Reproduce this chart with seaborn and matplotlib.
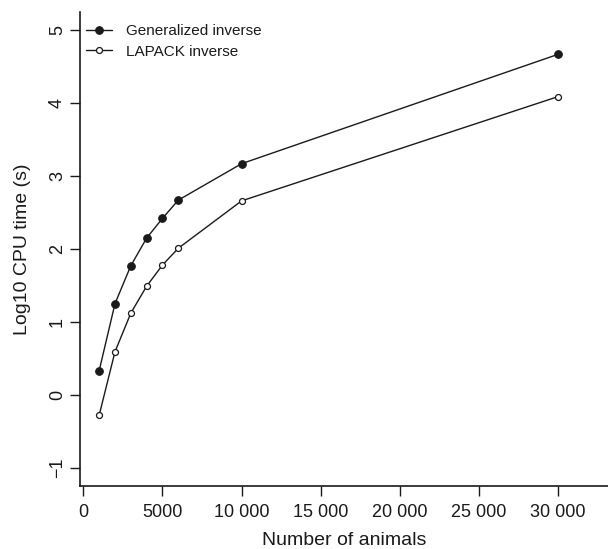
import matplotlib
matplotlib.use("Agg")
import matplotlib.pyplot as plt
import seaborn as sns
import pandas as pd

animals = [1000, 2000, 3000, 4000, 5000, 6000, 10000, 30000]
generalized = [0.33, 1.25, 1.77, 2.15, 2.42, 2.67, 3.17, 4.67]
lapack = [-0.28, 0.59, 1.12, 1.49, 1.78, 2.01, 2.66, 4.09]
x_ticks = [0, 5000, 10000, 15000, 20000, 25000, 30000]
x_tick_labels = ["0", "5000", "10 000", "15 000", "20 000", "25 000", "30 000"]
y_ticks = [-1, 0, 1, 2, 3, 4, 5]
y_tick_labels = ["\u22121", "0", "1", "2", "3", "4", "5"]

sns.set_theme(style="ticks")
plt.rcParams['font.family'] = ['Liberation Sans', 'DejaVu Sans']

fig = plt.figure(figsize=(6.08, 5.49), dpi=100)
W, H = 608, 549
ax = fig.add_axes([80 / W, (H - 486) / H, (608 - 80) / W, (486 - 12) / H])

df_g = pd.DataFrame({"x": animals, "y": generalized})
df_l = pd.DataFrame({"x": animals, "y": lapack})

sns.lineplot(data=df_g, x="x", y="y", ax=ax, color="#1a1a1a", linewidth=1.0,
             marker="o", markersize=5.5, markerfacecolor="#1a1a1a",
             markeredgecolor="#1a1a1a", label="Generalized inverse")
sns.lineplot(data=df_l, x="x", y="y", ax=ax, color="#1a1a1a", linewidth=1.0,
             marker="o", markersize=4.3, markerfacecolor="white",
             markeredgecolor="#1a1a1a", markeredgewidth=0.9, label="LAPACK inverse")

ax.set_xlim(-210, 33150)
ax.set_ylim(-1.25, 5.25)
ax.set_xticks(x_ticks)
ax.set_xticklabels(x_tick_labels)
ax.set_yticks(y_ticks)
ax.set_yticklabels(y_tick_labels, rotation=90, va="center")
ax.tick_params(axis="both", direction="out", length=7, width=1.0, color="#1a1a1a",
               labelsize=13, labelcolor="#1a1a1a")
ax.tick_params(axis="x", pad=6)
ax.tick_params(axis="y", pad=3)
for s in ["top", "right"]:
    ax.spines[s].set_visible(False)
for s in ["left", "bottom"]:
    ax.spines[s].set_linewidth(1.2)
    ax.spines[s].set_color("#1a1a1a")

ax.set_xlabel("Number of animals", fontsize=14, color="#1a1a1a", labelpad=8)
ax.set_ylabel("Log10 CPU time (s)", fontsize=14, color="#1a1a1a", labelpad=13)

leg = ax.legend(loc="upper left", frameon=False, fontsize=11, handlelength=1.75,
                handletextpad=0.9, labelspacing=0.42, borderaxespad=0.0, borderpad=0.0,
                bbox_to_anchor=(0.0105, 0.974))
for t in leg.get_texts():
    t.set_color("#1a1a1a")

fig.savefig("out.png", dpi=100)
